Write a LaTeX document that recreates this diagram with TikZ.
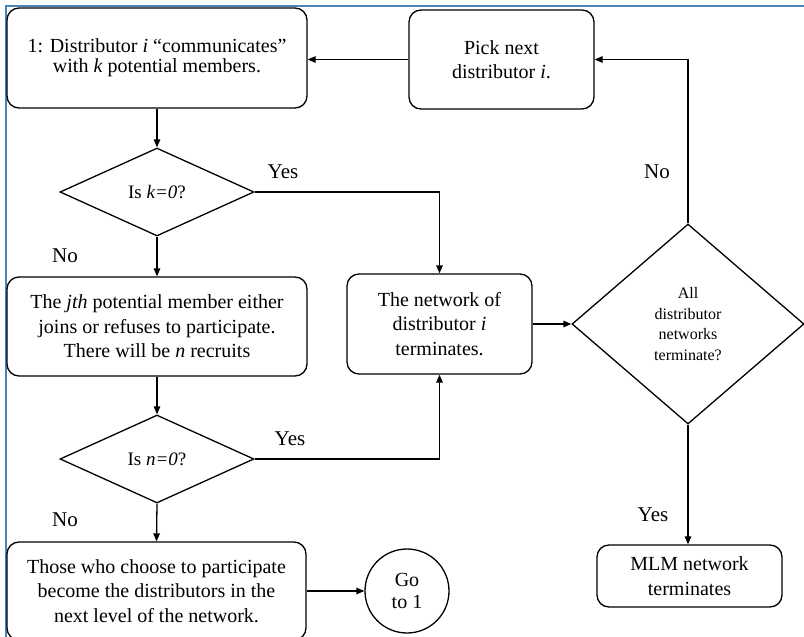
\documentclass[tikz,border=0pt]{standalone}
\usepackage{fontspec}
\setmainfont{Liberation Serif}
\usetikzlibrary{arrows.meta,shapes.geometric}
\definecolor{wordblue}{RGB}{79,129,189}
\begin{document}
\begin{tikzpicture}[x=1pt,y=-1pt,
  line width=1.3pt,
  >={Triangle[length=8pt,width=6.5pt]},
  procbox/.style={draw, rectangle, rounded corners=12pt, align=center, inner sep=0pt, font=\fontsize{20}{24.5}\selectfont},
  decide/.style={draw, diamond, align=center, inner sep=0pt, font=\fontsize{19}{22}\selectfont},
  lbl/.style={font=\fontsize{21}{24}\selectfont, inner sep=0pt},
  flow/.style={->, line width=1.3pt}]
\useasboundingbox (0,0) rectangle (804,637);
\clip (0,0) rectangle (804,637);
\draw[wordblue, line width=2.5pt] (6,637) -- (6,6) -- (804,6);

\node[procbox, minimum width=300pt, minimum height=100pt, font=\fontsize{20}{20}\selectfont] (b1) at (157,58)
  {1: Distributor \textit{i} “communicates”\\with \textit{k} potential members.};
\node[procbox, minimum width=185pt, minimum height=99pt] (pick) at (501.5,59.5)
  {Pick next\\distributor \textit{i}.};
\node[decide, minimum width=194pt, minimum height=88pt] (d1) at (157,192) {Is \textit{k=0}?};
\node[procbox, minimum width=300pt, minimum height=99pt] (b2) at (157,326.5)
  {The \textit{jth} potential member either\\joins or refuses to participate.\\There will be \textit{n} recruits};
\node[procbox, minimum width=185pt, minimum height=100pt] (net) at (439.5,324)
  {The network of\\distributor \textit{i}\\terminates.};
\node[decide, minimum width=194pt, minimum height=88pt] (d2) at (157,459) {Is \textit{n=0}?};
\node[procbox, minimum width=299pt, minimum height=98pt] (b3) at (156.5,591)
  {Those who choose to participate\\become the distributors in the\\next level of the network.};
\node[draw, circle, minimum size=84pt, inner sep=0pt, align=center, font=\fontsize{20}{22}\selectfont] (go) at (407,591)
  {Go\\to 1};
\node[decide, minimum width=232pt, minimum height=200pt, font=\fontsize{16}{20.5}\selectfont] (D) at (688,324)
  {All\\distributor\\networks\\terminate?};
\node[procbox, minimum width=185pt, minimum height=62pt] (mlm) at (689.5,576)
  {MLM network\\terminates};

\draw[flow] (b1.south) -- (d1.north);
\draw[flow] (pick.west) -- (pick.west -| b1.east);
\draw[flow] (d1.east) -| (net.north);
\draw[flow] (d1.south) -- (b2.north);
\draw[flow] (b2.south) -- (d2.north);
\draw[flow] (d2.east) -| (net.south);
\draw[flow] (d2.south) -- (b3.north);
\draw[flow] (b3.east) -- (go.west);
\draw[flow] (net.east) -- (D.west);
\draw[flow] (D.north) |- (pick.east);
\draw[flow] (D.south) -- (D.south |- mlm.north);

\node[lbl] (y1) at (283,172) {Yes};
\node[lbl] (n1) at (65,256) {No};
\node[lbl] (y2) at (290,439) {Yes};
\node[lbl] (n2) at (65,520) {No};
\node[lbl] (n3) at (657,172) {No};
\node[lbl] (y3) at (653,515) {Yes};
\end{tikzpicture}
\end{document}
